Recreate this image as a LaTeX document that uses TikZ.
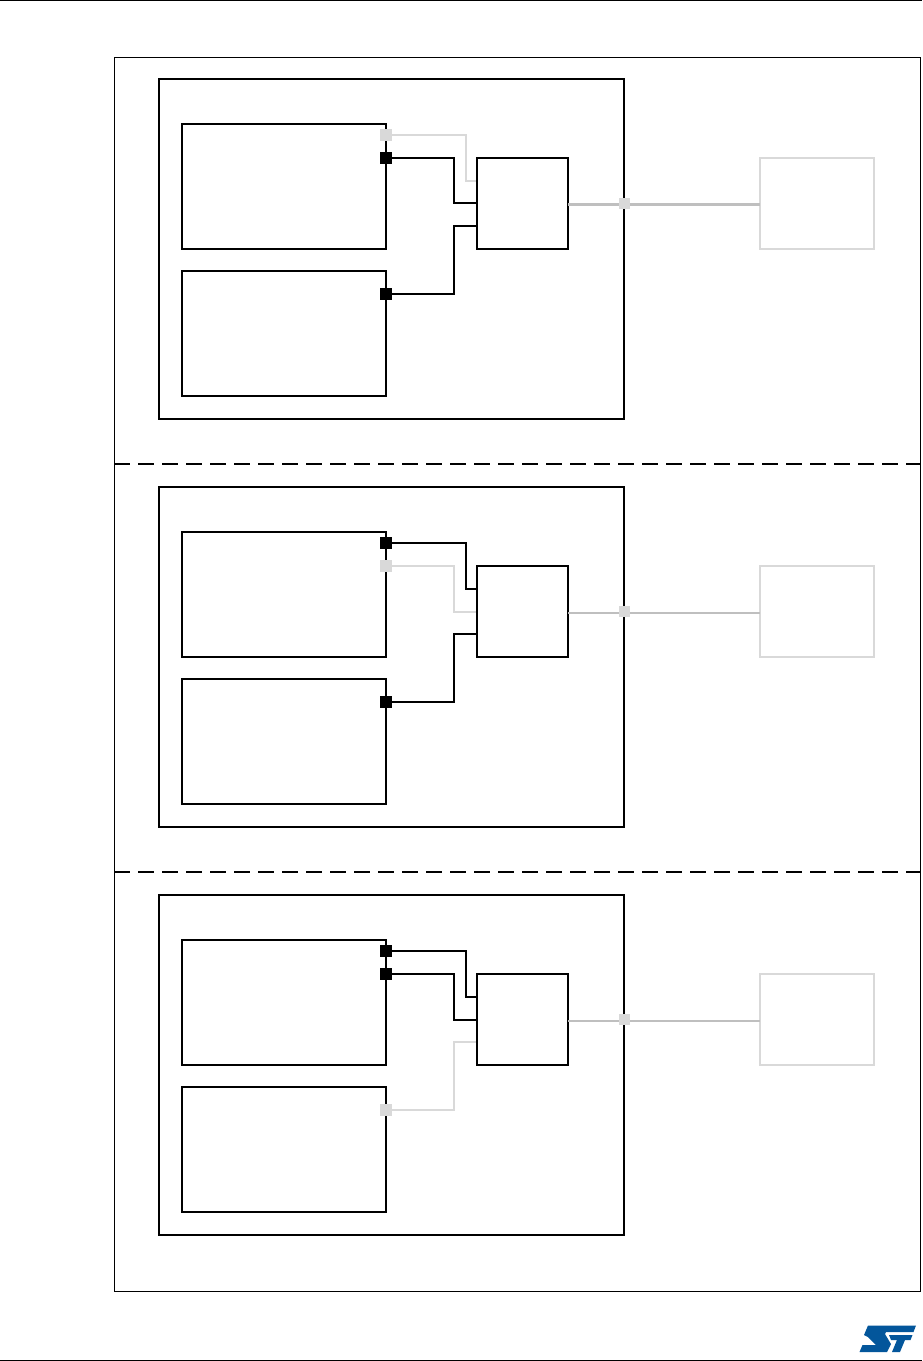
\documentclass[tikz,border=0pt]{standalone}
\definecolor{portgray}{HTML}{D9D9D9}
\definecolor{linegray}{HTML}{BFBFBF}
\definecolor{stblue}{HTML}{03569B}
\tikzset{
  x=1pt,y=-1pt,
  blockbox/.style={draw=black,line width=1.9pt,inner sep=0pt,outer sep=0pt,anchor=north west},
  extbox/.style={draw=portgray,line width=1.9pt,fill=white,inner sep=0pt,outer sep=0pt,anchor=north west,minimum width=114pt,minimum height=91pt},
  chipbox/.style={blockbox,minimum width=465pt,minimum height=340pt},
  periphbox/.style={blockbox,minimum width=204pt,minimum height=125pt},
  muxbox/.style={blockbox,minimum width=91pt,minimum height=91pt},
  blackport/.style={fill=black,draw=none,inner sep=0pt,outer sep=0pt,minimum size=12pt},
  grayport/.style={fill=portgray,draw=none,inner sep=0pt,outer sep=0pt,minimum size=12pt},
  outport/.style={fill=portgray,draw=none,inner sep=0pt,outer sep=0pt,minimum size=11pt},
  blackwire/.style={draw=black,line width=1.9pt},
  graywire/.style={draw=portgray,line width=1.9pt},
  outwire/.style={draw=linegray,line width=1.9pt},
  outwirethick/.style={draw=linegray,line width=3pt},
  framebox/.style={draw=black,line width=1pt,inner sep=0pt,outer sep=0pt,anchor=north west,minimum width=806pt,minimum height=1234pt},
  divider/.style={draw=black,line width=1.9pt,dash pattern=on 16pt off 8pt},
  pagerule/.style={draw=black,line width=1pt}
}
\begin{document}
\begin{tikzpicture}
\useasboundingbox (0,0) rectangle (922,1361);
\fill[white] (0,0) rectangle (922,1361);
% page rules
\coordinate (topL) at (0,0.5); \coordinate (topR) at (922,0.5);
\coordinate (botL) at (0,1360); \coordinate (botR) at (922,1360);
\draw[pagerule] (topL) -- (topR);
\draw[pagerule] (botL) -- (botR);
% outer frame
\node[framebox] (frame) at (114.5,57) {};
\coordinate (d1L) at (114,464); \coordinate (d1R) at (920,464);
\coordinate (d2L) at (114,872); \coordinate (d2R) at (920,872);
\draw[divider] (d1L) -- (d1R);
\draw[divider] (d2L) -- (d2R);

% ---------- panel 1 ----------
\node[chipbox] (chipA) at (159,79) {};
\node[periphbox] (pA1) at (182,124) {};
\node[periphbox] (pA2) at (182,271) {};
\node[extbox] (extA) at (760,158) {};
\coordinate (muxAa) at (477,181); \coordinate (muxAb) at (477,203); \coordinate (muxAc) at (477,226);
\coordinate (bendAa) at (466,181); \coordinate (bendAb) at (454,203); \coordinate (bendAc) at (454,226);
\node[grayport] (portAa) at (386,135) {};
\node[blackport] (portAb) at (386,158) {};
\node[blackport] (portAc) at (386,294) {};
\draw[graywire] (portAa.center) -| (bendAa) -- (muxAa);
\draw[blackwire] (portAb.center) -| (bendAb) -- (muxAb);
\draw[blackwire] (portAc.center) -| (bendAc) -- (muxAc);
\node[muxbox] (muxA) at (477,158) {};
\coordinate (wireA) at (624,204.5);
\draw[outwirethick] (muxA.east |- wireA) -- (extA.west |- wireA);
\node[outport] (outA) at (624.5,203.5) {};

% ---------- panel 2 ----------
\node[chipbox] (chipB) at (159,487) {};
\node[periphbox] (pB1) at (182,532) {};
\node[periphbox] (pB2) at (182,679) {};
\node[extbox] (extB) at (760,566) {};
\coordinate (muxBa) at (477,589); \coordinate (muxBb) at (477,612); \coordinate (muxBc) at (477,634);
\coordinate (bendBa) at (466,589); \coordinate (bendBb) at (454,612); \coordinate (bendBc) at (454,634);
\node[blackport] (portBa) at (386,543) {};
\node[grayport] (portBb) at (386,566) {};
\node[blackport] (portBc) at (386,702) {};
\draw[blackwire] (portBa.center) -| (bendBa) -- (muxBa);
\draw[graywire] (portBb.center) -| (bendBb) -- (muxBb);
\draw[blackwire] (portBc.center) -| (bendBc) -- (muxBc);
\node[muxbox] (muxB) at (477,566) {};
\coordinate (wireB) at (624,613);
\draw[outwire] (muxB.east |- wireB) -- (extB.west |- wireB);
\node[outport] (outB) at (624.5,611.5) {};

% ---------- panel 3 ----------
\node[chipbox] (chipC) at (159,895) {};
\node[periphbox] (pC1) at (182,940) {};
\node[periphbox] (pC2) at (182,1087) {};
\node[extbox] (extC) at (760,974) {};
\coordinate (muxCa) at (477,997); \coordinate (muxCb) at (477,1020); \coordinate (muxCc) at (477,1042);
\coordinate (bendCa) at (466,997); \coordinate (bendCb) at (454,1020); \coordinate (bendCc) at (454,1042);
\node[blackport] (portCa) at (386,951) {};
\node[blackport] (portCb) at (386,974) {};
\node[grayport] (portCc) at (386,1110) {};
\draw[blackwire] (portCa.center) -| (bendCa) -- (muxCa);
\draw[blackwire] (portCb.center) -| (bendCb) -- (muxCb);
\draw[graywire] (portCc.center) -| (bendCc) -- (muxCc);
\node[muxbox] (muxC) at (477,974) {};
\coordinate (wireC) at (624,1021);
\draw[outwire] (muxC.east |- wireC) -- (extC.west |- wireC);
\node[outport] (outC) at (624.5,1019.5) {};

% ST logo
\fill[stblue] (868,1325.5) -- (916,1325.5) -- (913.5,1332) -- (886,1332) -- (885,1334) -- (891,1344) -- (887,1352) -- (859.5,1352) -- (862.5,1345) -- (876,1345) -- (868,1337) -- (864,1335) -- cycle;
\fill[stblue] (889,1335) -- (912.5,1335) -- (910.5,1340) -- (905,1340) -- (900,1352) -- (892,1352) -- (897,1340) -- (891,1340) -- cycle;
\end{tikzpicture}
\end{document}
